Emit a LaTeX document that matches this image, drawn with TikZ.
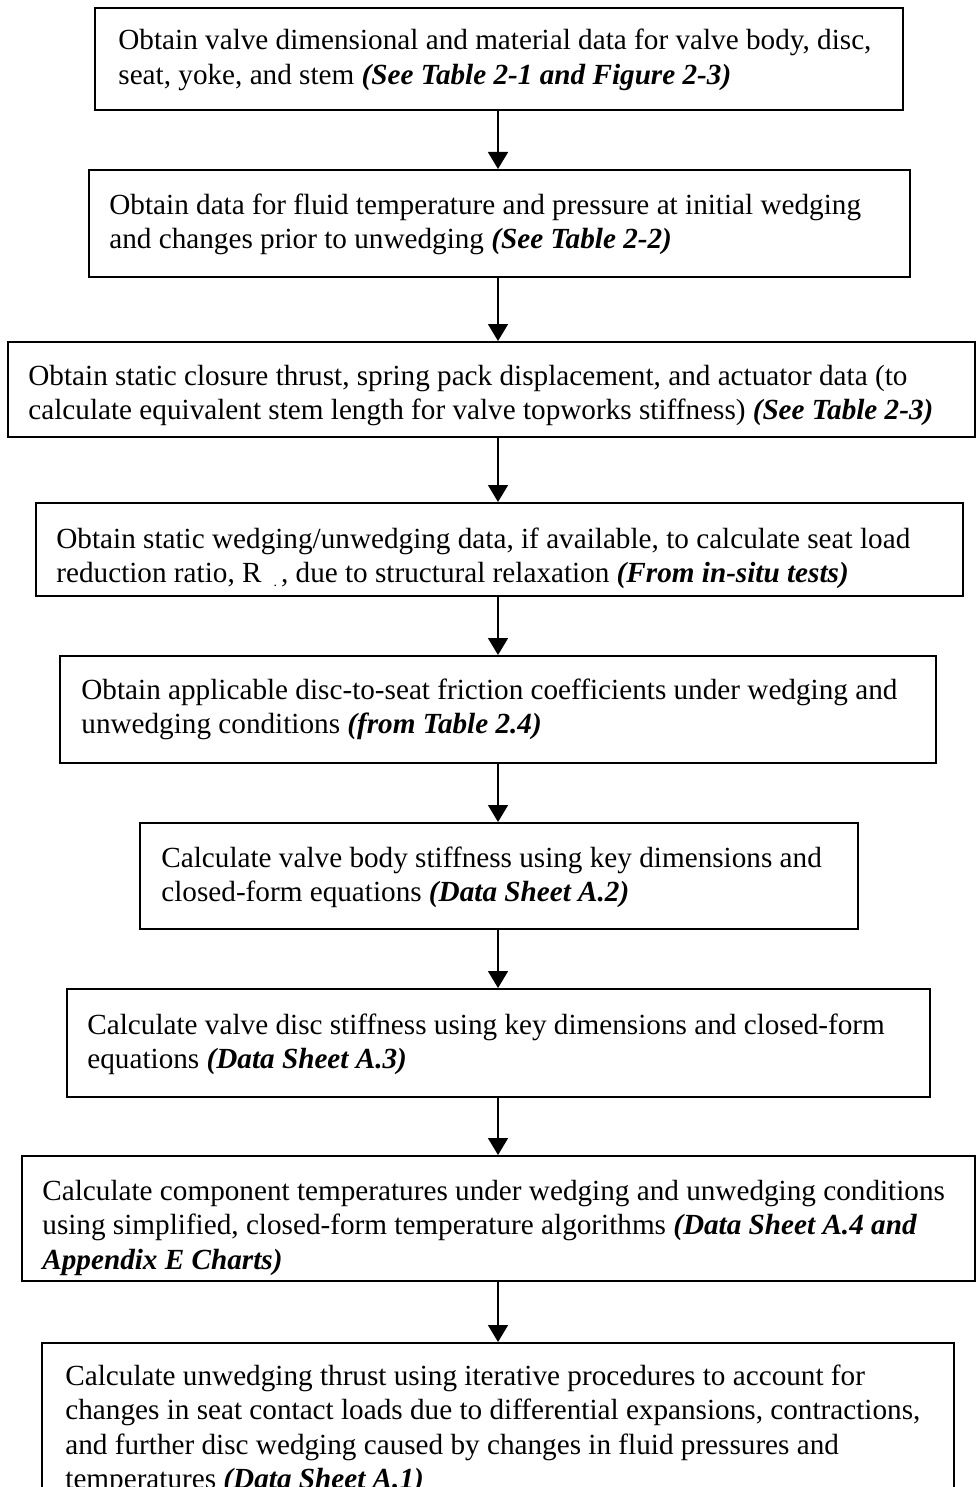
\documentclass[tikz,border=0pt]{standalone}
\usepackage{fontspec}
\setmainfont{Liberation Serif}
\usetikzlibrary{arrows.meta}
\newcommand\bfit[1]{\textbf{\textit{#1}}}
\begin{document}
\begin{tikzpicture}[x=0.5pt,y=-0.5pt,
  box/.style={draw=black, line width=1pt, fill=none, inner sep=0pt},
  txt/.style={anchor=base west, inner sep=0pt, font=\fontsize{14.6pt}{17.3pt}\selectfont},
  arr/.style={draw=black, line width=0.8pt, -{Triangle[length=8.5pt,width=10pt]}}]
\useasboundingbox (0,0) rectangle (977,1487);
\clip (0,0) rectangle (977,1487);
\fill[white] (0,0) rectangle (977,1487);
\coordinate (ax) at (498,0);
% boxes
\node[box, minimum width=404pt,   minimum height=51pt]   (b1) at (499,59) {};
\node[box, minimum width=410.75pt,minimum height=53.5pt] (b2) at (499.25,223.5) {};
\node[box, minimum width=483.75pt,minimum height=47.5pt] (b3) at (491.25,389.5) {};
\node[box, minimum width=463.5pt, minimum height=46.5pt] (b4) at (499,549.5) {};
\node[box, minimum width=438pt,   minimum height=53.5pt] (b5) at (498,709.5) {};
\node[box, minimum width=359pt,   minimum height=53pt]   (b6) at (499,876) {};
\node[box, minimum width=431.5pt, minimum height=54pt]   (b7) at (498.5,1043) {};
\node[box, minimum width=476.5pt, minimum height=62.5pt] (b8) at (498.5,1218.5) {};
\node[box, minimum width=456pt,   minimum height=88.5pt] (b9) at (498,1431.5) {};
% texts
\node[txt] (t1) at (118,50) {\vtop{\hbox{Obtain valve dimensional and material data for valve body, disc,}\hbox{seat, yoke, and stem \bfit{(See Table 2-1 and Figure 2-3)}}}};
\node[txt] (t2) at (109,214) {\vtop{\hbox{Obtain data for fluid temperature and pressure at initial wedging}\hbox{and changes prior to unwedging \bfit{(See Table 2-2)}}}};
\node[txt] (t3) at (28,385) {\vtop{\hbox{Obtain static closure thrust, spring pack displacement, and actuator data (to}\hbox{calculate equivalent stem length for valve topworks stiffness) \bfit{(See Table 2-3)}}}};
\node[txt] (t4) at (56,548) {\vtop{\hbox{Obtain static wedging/unwedging data, if available, to calculate seat load}\hbox{reduction ratio, R\hspace{6pt}\raisebox{-2pt}{\scriptsize .}\hspace{2pt}, due to structural relaxation \bfit{(From in-situ tests)}}}};
\node[txt] (t5) at (81,699) {\vtop{\hbox{Obtain applicable disc-to-seat friction coefficients under wedging and}\hbox{unwedging conditions \bfit{(from Table 2.4)}}}};
\node[txt] (t6) at (161,867) {\vtop{\hbox{Calculate valve body stiffness using key dimensions and}\hbox{closed-form equations \bfit{(Data Sheet A.2)}}}};
\node[txt] (t7) at (87,1034) {\vtop{\hbox{Calculate valve disc stiffness using key dimensions and closed-form}\hbox{equations \bfit{(Data Sheet A.3)}}}};
\node[txt] (t8) at (42,1200) {\vtop{\hbox{Calculate component temperatures under wedging and unwedging conditions}\hbox{using simplified, closed-form temperature algorithms \bfit{(Data Sheet A.4 and}}\hbox{\bfit{Appendix E Charts)}}}};
\node[txt] (t9) at (65,1385) {\vtop{\hbox{Calculate unwedging thrust using iterative procedures to account for}\hbox{changes in seat contact loads due to differential expansions, contractions,}\hbox{and further disc wedging caused by changes in fluid pressures and}\hbox{temperatures \bfit{(Data Sheet A.1)}}}};
% arrows
\draw[arr] (b1.south -| ax) -- (b2.north -| ax);
\draw[arr] (b2.south -| ax) -- (b3.north -| ax);
\draw[arr] (b3.south -| ax) -- (b4.north -| ax);
\draw[arr] (b4.south -| ax) -- (b5.north -| ax);
\draw[arr] (b5.south -| ax) -- (b6.north -| ax);
\draw[arr] (b6.south -| ax) -- (b7.north -| ax);
\draw[arr] (b7.south -| ax) -- (b8.north -| ax);
\draw[arr] (b8.south -| ax) -- (b9.north -| ax);
\end{tikzpicture}
\end{document}
